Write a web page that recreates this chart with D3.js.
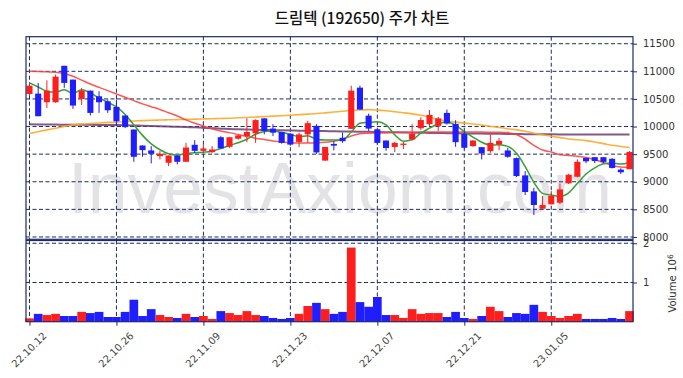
<!DOCTYPE html>
<html>
<head>
<meta charset="utf-8">
<script src="https://cdn.jsdelivr.net/npm/d3@7"></script>
<style>
  body { margin: 0; background: #fff; }
  svg { display: block; }
</style>
</head>
<body>
<div id="chart"></div>
<script>
// 드림텍 (192650) daily candles, 22.10.12 ~ 23.01.18
const dates = [
  "22.10.12", "22.10.13", "22.10.14", "22.10.17", "22.10.18", "22.10.19", "22.10.20", "22.10.21", "22.10.24", "22.10.25",
  "22.10.26", "22.10.27", "22.10.28", "22.10.31", "22.11.01", "22.11.02", "22.11.03", "22.11.04", "22.11.07", "22.11.08",
  "22.11.09", "22.11.10", "22.11.11", "22.11.14", "22.11.15", "22.11.16", "22.11.17", "22.11.18", "22.11.21", "22.11.22",
  "22.11.23", "22.11.24", "22.11.25", "22.11.28", "22.11.29", "22.11.30", "22.12.01", "22.12.02", "22.12.05", "22.12.06",
  "22.12.07", "22.12.08", "22.12.09", "22.12.12", "22.12.13", "22.12.14", "22.12.15", "22.12.16", "22.12.19", "22.12.20",
  "22.12.21", "22.12.22", "22.12.23", "22.12.26", "22.12.27", "22.12.28", "22.12.29", "23.01.02", "23.01.03", "23.01.04",
  "23.01.05", "23.01.06", "23.01.09", "23.01.10", "23.01.11", "23.01.12", "23.01.13", "23.01.16", "23.01.17", "23.01.18"
];

const openPrices = [
  10590, 10596, 10440, 10440, 11100, 10850, 10500, 10650, 10548, 10457,
  10355, 10200, 9946, 9657, 9567, 9464, 9344, 9476, 9362, 9669,
  9560, 9536, 9807, 9633, 9780, 9827, 9877, 10148, 9963, 9901,
  9870, 9722, 9858, 10012, 9383, 9685, 9796, 9958, 10704, 10197,
  9951, 9747, 9630, 9667, 9765, 9969, 10043, 10012, 10247, 10048,
  9867, 9645, 9627, 9555, 9675, 9567, 9428, 9115, 8826, 8512,
  8591, 8621, 8971, 9091, 9430, 9445, 9445, 9415, 9220, 9227
];
const highPrices = [
  10770, 10789, 10837, 10940, 11100, 10850, 10700, 10650, 10640, 10490,
  10490, 10200, 9946, 9657, 9645, 9555, 9476, 9476, 9705, 9753,
  9675, 9645, 9825, 9807, 9850, 10148, 10130, 10148, 10043, 9901,
  9870, 9889, 10105, 10043, 9630, 9735, 9889, 10740, 10740, 10235,
  9951, 9747, 9722, 9722, 10043, 10167, 10300, 10175, 10307, 10114,
  9916, 9755, 9627, 9855, 9795, 9615, 9440, 9193, 8892, 8742,
  8832, 8971, 9145, 9404, 9440, 9445, 9445, 9430, 9245, 9555
];
const lowPrices = [
  10560, 10187, 10337, 10430, 10700, 10320, 10390, 10200, 10247, 10247,
  10006, 9975, 9362, 9452, 9332, 9404, 9284, 9314, 9362, 9524,
  9524, 9524, 9603, 9615, 9760, 9716, 9704, 9858, 9827, 9691,
  9654, 9630, 9704, 9506, 9383, 9568, 9704, 9958, 10307, 9920,
  9673, 9562, 9537, 9593, 9753, 9938, 10000, 9920, 10036, 9633,
  9597, 9633, 9404, 9524, 9572, 9434, 9085, 8760, 8398, 8512,
  8591, 8597, 8960, 9080, 9336, 9340, 9340, 9241, 9142, 9227
];
const closePrices = [
  10740, 10187, 10650, 10903, 10790, 10380, 10650, 10247, 10440, 10295,
  10096, 9990, 9452, 9573, 9506, 9506, 9476, 9362, 9620, 9560,
  9603, 9584, 9603, 9807, 9840, 9901, 10117, 9920, 9889, 9704,
  9673, 9858, 10062, 9531, 9630, 9654, 9735, 10650, 10307, 9963,
  9704, 9611, 9704, 9691, 9870, 10117, 10210, 10148, 10054, 9717,
  9615, 9747, 9512, 9705, 9741, 9452, 9103, 8814, 8579, 8578,
  8742, 8862, 9127, 9362, 9370, 9375, 9360, 9250, 9172, 9540
];
const volumes = [
  85000, 200000, 170000, 200000, 145000, 145000, 250000, 220000, 250000, 120000,
  120000, 250000, 560000, 145000, 320000, 170000, 120000, 95000, 200000, 120000,
  145000, 70000, 270000, 220000, 170000, 270000, 170000, 145000, 95000, 70000,
  95000, 200000, 400000, 480000, 320000, 200000, 250000, 1890000, 500000, 380000,
  630000, 170000, 170000, 95000, 320000, 200000, 220000, 220000, 120000, 250000,
  95000, 70000, 145000, 380000, 270000, 120000, 220000, 200000, 430000, 250000,
  145000, 95000, 145000, 200000, 70000, 70000, 70000, 95000, 70000, 270000
];

// moving averages
const ma5 = [
  10790, 10716, 10638, 10620, 10668, 10596, 10668, 10608, 10518, 10440,
  10355, 10217, 10030, 9840, 9685, 9580, 9507, 9485, 9512, 9524,
  9536, 9554, 9600, 9660, 9705, 9770, 9860, 9910, 9920, 9895,
  9860, 9815, 9835, 9770, 9755, 9755, 9760, 9900, 10060, 10075,
  10085, 10030, 9850, 9735, 9760, 9880, 9970, 10050, 10080, 10020,
  9910, 9810, 9715, 9665, 9670, 9640, 9515, 9275, 8990, 8790,
  8760, 8735, 8800, 8970, 9140, 9250, 9325, 9340, 9320, 9350
];
const ma20 = [
  11000, 10995, 10990, 10985, 10960, 10910, 10840, 10770, 10710, 10650,
  10590, 10530, 10470, 10410, 10360, 10310, 10250, 10190, 10120, 10060,
  10010, 9960, 9920, 9890, 9855, 9820, 9790, 9765, 9740, 9720,
  9705, 9700, 9700, 9705, 9715, 9735, 9770, 9830, 9870, 9880,
  9885, 9889, 9892, 9895, 9898, 9900, 9900, 9900, 9900, 9900,
  9900, 9900, 9900, 9898, 9896, 9890, 9855, 9770, 9660, 9575,
  9540, 9490, 9475, 9460, 9440, 9400, 9350, 9295, 9268, 9262
];
const ma60 = [
  9875, 9905, 9940, 9970, 10000, 10030, 10045, 10055, 10065, 10075,
  10080, 10090, 10100, 10108, 10114, 10118, 10122, 10125, 10130, 10134,
  10138, 10142, 10146, 10150, 10158, 10165, 10173, 10180, 10188, 10196,
  10205, 10215, 10225, 10235, 10248, 10262, 10276, 10290, 10300, 10306,
  10298, 10285, 10268, 10250, 10230, 10205, 10170, 10130, 10100, 10080,
  10062, 10045, 10025, 10005, 9985, 9960, 9940, 9915, 9880, 9850,
  9825, 9800, 9775, 9760, 9745, 9720, 9690, 9660, 9640, 9620
];
const ma120 = [
  10040, 10038, 10036, 10035, 10034, 10033, 10032, 10031, 10030, 10029,
  10028, 10025, 10020, 10015, 10010, 10005, 10000, 9995, 9990, 9985,
  9978, 9970, 9962, 9955, 9950, 9946, 9942, 9938, 9935, 9932,
  9929, 9926, 9923, 9920, 9918, 9915, 9912, 9910, 9907, 9904,
  9901, 9898, 9895, 9892, 9889, 9887, 9885, 9883, 9880, 9878,
  9876, 9874, 9872, 9870, 9868, 9866, 9864, 9862, 9861, 9860,
  9859, 9858, 9858, 9857, 9857, 9856, 9856, 9856, 9856, 9856
];

const priceTicks = [8000, 8500, 9000, 9500, 10000, 10500, 11000, 11500];
const volumeTicks = [1000000, 2000000];
const dateTickIdx = [0, 10, 20, 30, 40, 50, 60];

const width = 683;
const height = 378;
const plot = { left: 26, right: 633 };
const priceBox = { top: 36.7, bottom: 239.3 };
const volBox = { top: 240.5, bottom: 321.7 };

const navy = "#1c2b66";
const upColor = "#ff1e1e";
const downColor = "#1e1eff";

const svg = d3.select("#chart")
  .append("svg")
  .attr("width", width)
  .attr("height", height);

const x = d3.scaleLinear().domain([-0.4, dates.length - 0.6]).range([plot.left, plot.right]);
const yPrice = d3.scaleLinear().domain([7958, 11627]).range([priceBox.bottom, priceBox.top]);
const yVol = d3.scaleLinear().domain([0, 2070000]).range([volBox.bottom, volBox.top]);
const step = x(1) - x(0);

// title
svg.append("text")
  .attr("x", 362)
  .attr("y", 24)
  .attr("text-anchor", "middle")
  .attr("font-family", "'Noto Sans CJK KR', 'Noto Sans', sans-serif")
  .attr("font-size", "15.5px")
  .attr("font-weight", 500)
  .attr("fill", "#111")
  .text("드림텍 (192650) 주가 차트");

// watermark
svg.append("text")
  .attr("x", 340)
  .attr("y", 213)
  .attr("text-anchor", "middle")
  .attr("font-family", "'Liberation Sans', Arial, sans-serif")
  .attr("font-size", "72px")
  .attr("fill", "#e3e3e6")
  .attr("textLength", 544)
  .attr("lengthAdjust", "spacingAndGlyphs")
  .text("InvestAxiom.com");

// grid
const grid = svg.append("g")
  .attr("stroke", navy)
  .attr("stroke-width", 1)
  .attr("stroke-dasharray", "4,2.5");

grid.selectAll(".hp").data(priceTicks).enter().append("line")
  .attr("x1", plot.left).attr("x2", plot.right)
  .attr("y1", d => yPrice(d)).attr("y2", d => yPrice(d));

grid.selectAll(".hv").data(volumeTicks).enter().append("line")
  .attr("x1", plot.left).attr("x2", plot.right)
  .attr("y1", d => yVol(d)).attr("y2", d => yVol(d));

grid.selectAll(".vp").data(dateTickIdx).enter().append("line")
  .attr("x1", d => x(d)).attr("x2", d => x(d))
  .attr("y1", priceBox.top).attr("y2", priceBox.bottom);

grid.selectAll(".vv").data(dateTickIdx).enter().append("line")
  .attr("x1", d => x(d)).attr("x2", d => x(d))
  .attr("y1", volBox.top).attr("y2", volBox.bottom);

// moving averages
const maLine = d3.line()
  .x((d, i) => x(i))
  .y(d => yPrice(d))
  .curve(d3.curveMonotoneX);

const maSeries = [
  { values: ma120, color: "#6e3c74", width: 2, opacity: 0.85 },
  { values: ma60, color: "#ffa726", width: 1.6, opacity: 0.9 },
  { values: ma20, color: "#ff3a3a", width: 1.5, opacity: 0.85 },
  { values: ma5, color: "#35a035", width: 1.5, opacity: 1 }
];

svg.append("g").selectAll("path")
  .data(maSeries)
  .enter()
  .append("path")
  .attr("d", d => maLine(d.values))
  .attr("fill", "none")
  .attr("stroke", d => d.color)
  .attr("stroke-width", d => d.width)
  .attr("stroke-opacity", d => d.opacity);

// candles
const candles = svg.append("g").selectAll("g")
  .data(dates.map((d, i) => ({
    i, o: openPrices[i], h: highPrices[i], l: lowPrices[i], c: closePrices[i], v: volumes[i]
  })))
  .enter()
  .append("g");

const colorOf = d => d.c >= d.o ? upColor : downColor;

candles.append("line")
  .attr("x1", d => x(d.i)).attr("x2", d => x(d.i))
  .attr("y1", d => yPrice(d.h)).attr("y2", d => yPrice(d.l))
  .attr("stroke", colorOf)
  .attr("stroke-width", 1);

candles.append("rect")
  .attr("x", d => x(d.i) - step * 0.35)
  .attr("width", step * 0.7)
  .attr("y", d => yPrice(Math.max(d.o, d.c)))
  .attr("height", d => Math.max(1, Math.abs(yPrice(d.o) - yPrice(d.c))))
  .attr("fill", colorOf);

// volume bars
candles.append("rect")
  .attr("x", d => x(d.i) - step / 2)
  .attr("width", step)
  .attr("y", d => yVol(d.v))
  .attr("height", d => volBox.bottom - yVol(d.v))
  .attr("fill", colorOf);

// frames
svg.append("rect")
  .attr("x", plot.left).attr("y", priceBox.top)
  .attr("width", plot.right - plot.left).attr("height", priceBox.bottom - priceBox.top)
  .attr("fill", "none").attr("stroke", navy).attr("stroke-width", 1.2);

svg.append("rect")
  .attr("x", plot.left).attr("y", volBox.top)
  .attr("width", plot.right - plot.left).attr("height", volBox.bottom - volBox.top)
  .attr("fill", "none").attr("stroke", navy).attr("stroke-width", 1.2);

// axes
function styleAxis(g) {
  g.select(".domain").remove();
  g.selectAll(".tick line").attr("stroke", navy);
  g.selectAll(".tick text")
    .attr("fill", "#333")
    .attr("font-family", "'DejaVu Sans', sans-serif")
    .attr("font-size", "10px");
}

svg.append("g")
  .attr("transform", `translate(${plot.right},0)`)
  .call(d3.axisRight(yPrice).tickValues(priceTicks).tickSize(4).tickPadding(6).tickFormat(d3.format("d")))
  .call(styleAxis);

svg.append("g")
  .attr("transform", `translate(${plot.right},0)`)
  .call(d3.axisRight(yVol).tickValues(volumeTicks).tickSize(4).tickPadding(6).tickFormat(d => d / 1e6))
  .call(styleAxis);

const xAxis = svg.append("g")
  .attr("transform", `translate(0,${volBox.bottom})`)
  .call(d3.axisBottom(x).tickValues(dateTickIdx).tickSize(4).tickFormat(i => dates[i]))
  .call(styleAxis);

xAxis.selectAll(".tick text")
  .attr("fill", "#444")
  .attr("y", 0)
  .attr("dy", "0.35em")
  .attr("text-anchor", "middle")
  .attr("transform", "translate(-1,28) rotate(-45)");

// volume label
svg.append("text")
  .attr("transform", "translate(676,294) rotate(-90)")
  .attr("text-anchor", "middle")
  .attr("font-family", "'DejaVu Sans', sans-serif")
  .attr("font-size", "10px")
  .attr("fill", "#333")
  .text("Volume");

const expLabel = svg.append("text")
  .attr("transform", "translate(676,263) rotate(-90)")
  .attr("text-anchor", "middle")
  .attr("font-family", "'DejaVu Sans', sans-serif")
  .attr("font-size", "10px")
  .attr("fill", "#333");
expLabel.append("tspan").text("10");
expLabel.append("tspan").attr("dy", "-0.45em").attr("font-size", "7.5px").text("6");
</script>
</body>
</html>
